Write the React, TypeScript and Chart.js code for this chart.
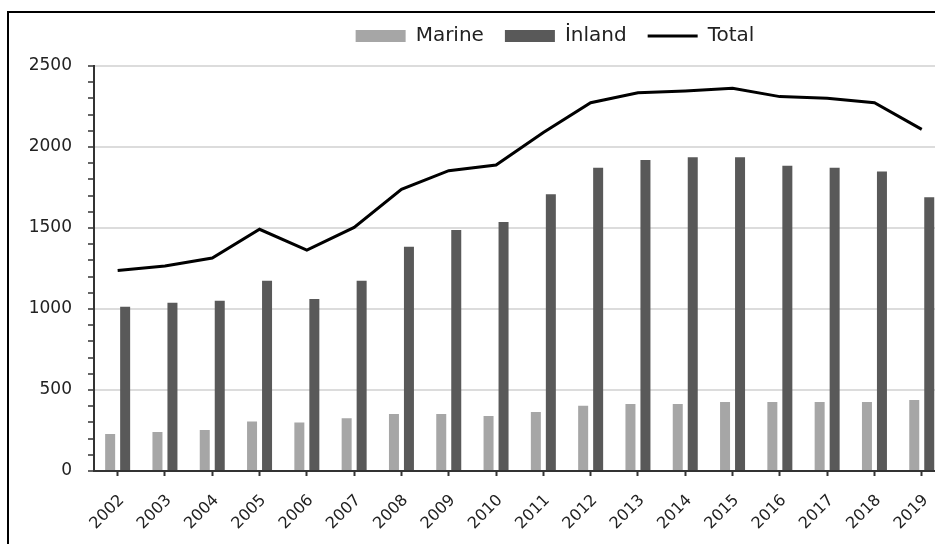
import { useEffect, useRef } from "react";
import { Chart, registerables } from "chart.js";

Chart.register(...registerables);

const years = ["2002", "2003", "2004", "2005", "2006", "2007", "2008", "2009", "2010", "2011", "2012", "2013", "2014", "2015", "2016", "2017", "2018", "2019"];
const marine = [228, 241, 253, 305, 300, 325, 352, 352, 340, 364, 403, 414, 414, 426, 426, 426, 426, 438];
const inland = [1014, 1039, 1051, 1175, 1062, 1175, 1385, 1488, 1537, 1708, 1872, 1920, 1936, 1936, 1885, 1872, 1848, 1690];
const total = [1237, 1265, 1315, 1492, 1364, 1504, 1739, 1854, 1889, 2090, 2273, 2335, 2346, 2362, 2311, 2301, 2273, 2109];
const yMin = 0;
const yMax = 2500;
const yMinorStep = 100;
const yMajorStep = 500;

const FONT = "'DejaVu Sans', sans-serif";
const TEXT = "#222222";

export default function App() {
  const ref = useRef<HTMLCanvasElement | null>(null);

  useEffect(() => {
    if (!ref.current) return;
    const chart = new Chart(ref.current, {
      type: "bar",
      data: {
        labels: years,
        datasets: [
          {
            label: "Marine",
            data: marine,
            backgroundColor: "#a6a6a6",
            borderWidth: 0,
            categoryPercentage: 0.634,
            barPercentage: 0.667,
            pointStyle: "rect",
          } as any,
          {
            label: "İnland",
            data: inland,
            backgroundColor: "#595959",
            borderWidth: 0,
            categoryPercentage: 0.634,
            barPercentage: 0.667,
            pointStyle: "rect",
          } as any,
          {
            type: "line",
            label: "Total",
            data: total,
            borderColor: "#000000",
            backgroundColor: "#000000",
            borderWidth: 3,
            pointRadius: 0,
            tension: 0,
            pointStyle: "line",
          } as any,
        ],
      },
      options: {
        responsive: false,
        animation: false,
        devicePixelRatio: 1,
        layout: { padding: { top: 5, left: 0, right: 0, bottom: 0 } },
        plugins: {
          tooltip: { enabled: false },
          legend: {
            display: true,
            position: "top",
            align: "center",
            labels: {
              usePointStyle: true,
              pointStyleWidth: 50,
              boxHeight: 12,
              padding: 21,
              color: TEXT,
              font: { family: FONT, size: 20 },
            },
          },
        },
        scales: {
          x: {
            type: "category",
            position: "bottom",
            offset: true,
            grid: {
              offset: false,
              drawOnChartArea: false,
              drawTicks: true,
              tickLength: 5,
              tickColor: "#333333",
              tickWidth: 2,
            },
            border: { display: true, color: "#333333", width: 2 },
            ticks: {
              autoSkip: false,
              maxRotation: 45,
              minRotation: 45,
              padding: 15,
              labelOffset: 4,
              color: TEXT,
              font: { family: FONT, size: 16 },
            },
            afterFit: (s: any) => {
              s.height = 73;
            },
          },
          y: {
            type: "linear",
            position: "left",
            min: yMin,
            max: yMax,
            grid: {
              drawTicks: true,
              tickLength: 6,
              tickColor: "#333333",
              tickWidth: 1.5,
              lineWidth: 2,
              color: (ctx: any) => {
                const v = ctx.tick ? ctx.tick.value : 0;
                return v !== 0 && v % yMajorStep === 0 ? "#dcdcdc" : "rgba(0,0,0,0)";
              },
            },
            border: { display: true, color: "#333333", width: 2 },
            ticks: {
              stepSize: yMinorStep,
              autoSkip: false,
              padding: 16,
              color: TEXT,
              font: { family: FONT, size: 17 },
              callback: (v: any) => (Number(v) % yMajorStep === 0 ? String(v) : ""),
            },
            afterFit: (s: any) => {
              s.width = 94;
            },
          },
          padTop: {
            type: "linear",
            axis: "x",
            position: "top",
            display: true,
            grid: { display: false, drawTicks: false },
            border: { display: false },
            ticks: { display: false },
            afterFit: (s: any) => {
              s.height = 10;
            },
          } as any,
          padRight: {
            type: "linear",
            axis: "y",
            position: "right",
            display: true,
            grid: { display: false, drawTicks: false },
            border: { display: false },
            ticks: { display: false },
            afterFit: (s: any) => {
              s.width = 164.6;
            },
          } as any,
        },
      },
    });
    return () => chart.destroy();
  }, []);

  return (
    <div
      style={{
        position: "fixed",
        left: 0,
        top: 0,
        width: 935,
        height: 544,
        overflow: "hidden",
        background: "#ffffff",
      }}
    >
      <div
        style={{
          position: "absolute",
          left: 7,
          top: 11,
          width: 1200,
          height: 800,
          borderLeft: "2px solid #000",
          borderTop: "2px solid #000",
        }}
      />
      <canvas
        ref={ref}
        width={1110}
        height={544}
        style={{ position: "absolute", left: 0, top: 0, width: 1110, height: 544 }}
      />
    </div>
  );
}
